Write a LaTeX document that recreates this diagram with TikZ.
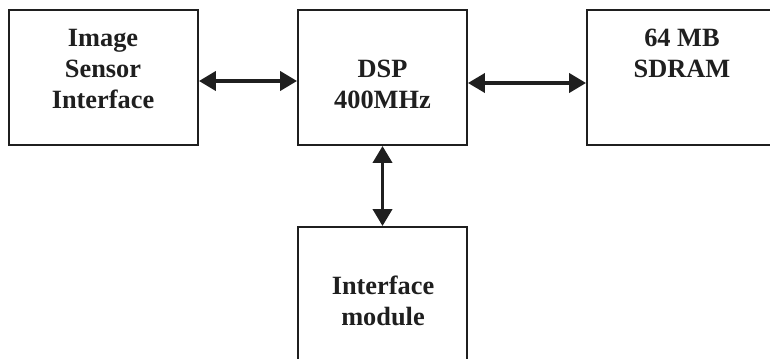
\documentclass[tikz,border=0pt]{standalone}
\usepackage{fontspec}
\setmainfont{Liberation Serif}
\usetikzlibrary{arrows.meta}

\begin{document}
\begin{tikzpicture}[
  x=0.02cm, y=-0.02cm,
  block/.style={draw=black!88, line width=1.1pt, inner sep=0pt},
  caption/.style={font=\fontsize{15}{17.6}\selectfont\bfseries, align=center, text=black!88},
  link/.style={{Triangle[length=0.34cm, width=0.38cm]}-{Triangle[length=0.34cm, width=0.38cm]},
    line width=2.2pt, black!88}
]
  \useasboundingbox (0,0) rectangle (770,358);

  \node[block, minimum width=3.78cm, minimum height=2.7cm] (isi) at (103.5,77.5) {};
  \node[block, minimum width=3.38cm, minimum height=2.7cm] (dsp) at (382.5,77.5) {};
  \node[block, minimum width=3.8cm, minimum height=2.7cm] (sdram) at (682,77.5) {};
  \node[block, minimum width=3.38cm, minimum height=3.0cm] (ifm) at (382.5,302) {};

  \node[caption] (isitext) at (103,69) {Image\\Sensor\\Interface};
  \node[caption] (dsptext) at (382.5,84) {DSP\\400MHz};
  \node[caption] (sdramtext) at (682,53) {64 MB\\SDRAM};
  \node[caption] (ifmtext) at (383,301) {Interface\\module};

  \draw[link] (isi.east |- 0,81) -- (dsp.west |- 0,81);
  \draw[link] (dsp.east |- 0,83) -- (sdram.west |- 0,83);
  \draw[link] (dsp.south) -- (ifm.north);
\end{tikzpicture}
\end{document}
